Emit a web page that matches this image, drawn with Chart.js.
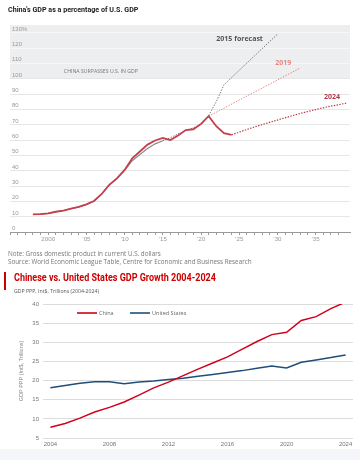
<!DOCTYPE html>
<html>
<head>
<meta charset="utf-8">
<script src="https://cdn.jsdelivr.net/npm/chart.js@4.4.1/dist/chart.umd.min.js"></script>
<style>
  html, body { margin: 0; padding: 0; background: #fff; }
  body { width: 360px; height: 460px; position: relative; overflow: hidden; font-family: 'Open Sans', sans-serif; }
  .abs { position: absolute; white-space: nowrap; }
  #c1 { position: absolute; left: 0; top: 0; }
  #c2 { position: absolute; left: 0; top: 295px; }
  #t1 { left: 8px; top: 5px; font-family: 'Liberation Sans Narrow', 'Roboto', sans-serif; font-weight: bold; font-size: 8px; color: #222; transform: scaleX(0.89); transform-origin: 0 0; }
  .note { left: 8px; font-size: 6.3px; color: #777; }
  #bar { left: 4px; top: 272px; width: 2px; height: 18px; background: #cc0000; }
  #t2 { left: 14px; top: 272px; font-family: 'Liberation Sans Narrow', 'Roboto', sans-serif; font-weight: bold; font-size: 10px; color: #cc0000; transform: scaleX(0.9); transform-origin: 0 0; }
  #st2 { left: 14px; top: 287px; font-size: 5.2px; color: #555; }
  #foot { left: 0; top: 449px; width: 360px; height: 11px; background: #f4f6f9; }
</style>
</head>
<body>
<div id="foot" class="abs"></div>
<canvas id="c1" width="360" height="250"></canvas>
<canvas id="c2" width="360" height="165"></canvas>
<div id="t1" class="abs">China's GDP as a percentage of U.S. GDP</div>
<div class="abs note" style="top:249px">Note: Gross domestic product in current U.S. dollars</div>
<div class="abs note" style="top:257px">Source: World Economic League Table, Centre for Economic and Business Research</div>
<div id="bar" class="abs"></div>
<div id="t2" class="abs">Chinese vs. United States GDP Growth 2004-2024</div>
<div id="st2" class="abs">GDP PPP, Int$, Trillions (2004-2024)</div>
<script>
// --- top chart: China's GDP as % of US GDP
const yearsActual = [1998, 1999, 2000, 2001, 2002, 2003, 2004, 2005, 2006, 2007, 2008, 2009, 2010, 2011, 2012, 2013, 2014, 2015, 2016, 2017, 2018, 2019, 2020, 2021, 2022, 2023, 2024];
const chinaShare = [11.5, 11.6, 12.2, 13.2, 14.0, 15.2, 16.4, 18.0, 20.2, 24.8, 30.8, 35.0, 40.5, 48.0, 52.5, 57.0, 59.7, 61.3, 60.0, 63.0, 66.5, 67.0, 70.5, 75.5, 69.0, 64.5, 63.4];
const yearsPast2015 = [1998, 1999, 2000, 2001, 2002, 2003, 2004, 2005, 2006, 2007, 2008, 2009, 2010, 2011, 2012, 2013, 2014, 2015];
const sharePast2015 = [11.5, 11.6, 12.2, 13.2, 14.0, 15.2, 16.4, 18.0, 20.2, 24.8, 30.8, 35.0, 40.2, 46.5, 50.5, 54.5, 57.5, 59.5];
const yearsFc2015 = [2015, 2016, 2017, 2018, 2019, 2020, 2021, 2022, 2023, 2030];
const fc2015 = [59.5, 61.5, 64, 66, 68, 70, 76, 85, 96, 129];
const yearsFc2019 = [2021, 2033];
const fc2019 = [75.5, 107];
const yearsFc2024 = [2024, 2027, 2030, 2033, 2036, 2039];
const fc2024 = [63.4, 68.5, 73, 77.3, 81, 84];
const shareTicks = [0, 10, 20, 30, 40, 50, 60, 70, 80, 90, 100, 110, 120, 130];

// --- bottom chart: GDP PPP
const pppYears = ['2004', '2005', '2006', '2007', '2008', '2009', '2010', '2011', '2012', '2013', '2014', '2015', '2016', '2017', '2018', '2019', '2020', '2021', '2022', '2023', '2024'];
const pppChina = [7.8, 8.8, 10.2, 11.8, 13.0, 14.4, 16.2, 18.1, 19.6, 21.3, 23.0, 24.6, 26.2, 28.2, 30.2, 32.0, 32.6, 35.7, 36.7, 38.8, 40.5];
const pppUS = [18.1, 18.7, 19.3, 19.7, 19.7, 19.2, 19.6, 19.9, 20.3, 20.6, 21.1, 21.6, 22.1, 22.6, 23.2, 23.8, 23.3, 24.8, 25.4, 26.0, 26.7];

const pts = (xs, ys) => xs.map((x, i) => ({ x, y: ys[i] }));

const callouts = [
  { text: '2015 forecast', x: 2028.1, y: 126, color: '#555', weight: 'bold', size: 7, align: 'right' },
  { text: '2019', x: 2031.8, y: 110, color: '#e8877f', weight: 'bold', size: 7, align: 'right' },
  { text: '2024', x: 2038.2, y: 88, color: '#b23a48', weight: 'bold', size: 7, align: 'right' },
  { text: 'CHINA SURPASSES U.S. IN GDP', x: 2006.9, y: 104.5, color: '#777', weight: 'normal', size: 5.2, align: 'center' }
];

const bandPlugin = {
  id: 'band',
  beforeDraw(chart) {
    const { ctx, chartArea: a, scales: { y } } = chart;
    ctx.save();
    ctx.fillStyle = '#eceef0';
    ctx.fillRect(a.left, a.top, a.right - a.left, y.getPixelForValue(100) - a.top);
    ctx.restore();
  },
  afterDatasetsDraw(chart) {
    const { ctx, scales: { x, y } } = chart;
    ctx.save();
    ctx.textBaseline = 'middle';
    callouts.forEach((c) => {
      ctx.font = `${c.weight} ${c.size}px 'Open Sans', sans-serif`;
      ctx.fillStyle = c.color;
      ctx.textAlign = c.align;
      ctx.fillText(c.text, x.getPixelForValue(c.x), y.getPixelForValue(c.y));
    });
    ctx.restore();
  }
};

const dotted = [1.4, 1.4];

new Chart(document.getElementById('c1'), {
  type: 'line',
  data: {
    datasets: [
      { data: pts(yearsActual, chinaShare), borderColor: '#c4404c', borderWidth: 1.8 },
      { data: pts(yearsPast2015, sharePast2015), borderColor: '#8a8a8a', borderWidth: 1.2 },
      { data: pts(yearsFc2015, fc2015), borderColor: '#777', borderWidth: 1, borderDash: dotted },
      { data: pts(yearsFc2019, fc2019), borderColor: '#e8877f', borderWidth: 1, borderDash: dotted },
      { data: pts(yearsFc2024, fc2024), borderColor: '#b23a48', borderWidth: 1.2, borderDash: dotted, cubicInterpolationMode: 'monotone' }
    ]
  },
  options: {
    responsive: false,
    animation: false,
    layout: { padding: { top: 25, left: 10, right: 10, bottom: 0 } },
    elements: { point: { radius: 0 }, line: { tension: 0 } },
    plugins: { legend: { display: false }, tooltip: { enabled: false } },
    scales: {
      x: {
        type: 'linear', min: 1995, max: 2039.5,
        afterBuildTicks: (s) => { s.ticks = s.ticks.filter((t) => Number.isInteger(t.value)); },
        afterFit: (s) => { s.height = 18; },
        ticks: {
          stepSize: 1, autoSkip: false, maxRotation: 0, padding: 1, color: '#999',
          font: { size: 6.2 },
          callback: (v) => (v % 5 === 0 && v >= 2000) ? (v === 2000 ? '2000' : '\u2019' + String(v).slice(2)) : ''
        },
        grid: { drawOnChartArea: false, drawTicks: true, tickLength: 3, color: '#999' },
        border: { display: true, color: '#999' }
      },
      y: {
        min: 0, max: 135,
        afterBuildTicks: (s) => { s.ticks = shareTicks.map((v) => ({ value: v })); },
        afterFit: (s) => { s.width = 0; },
        ticks: {
          mirror: true, padding: 2, labelOffset: -3.5, color: '#999',
          font: { size: 6 },
          callback: (v) => (v === 130 ? '130%' : v)
        },
        grid: { drawTicks: false, color: (c) => (c.tick && c.tick.value > 100 ? '#f6f7f8' : '#e6e6e6') },
        border: { display: false }
      }
    }
  },
  plugins: [bandPlugin]
});

const legendPlugin = {
  id: 'inlineLegend',
  afterDraw(chart) {
    const { ctx } = chart;
    const y = 18;
    const starts = [77, 130];
    ctx.save();
    ctx.font = "5.5px 'Open Sans', sans-serif";
    ctx.textBaseline = 'middle';
    chart.data.datasets.forEach((ds, i) => {
      const x0 = starts[i];
      ctx.strokeStyle = ds.borderColor;
      ctx.lineWidth = 1.6;
      ctx.beginPath();
      ctx.moveTo(x0, y);
      ctx.lineTo(x0 + 20, y);
      ctx.stroke();
      ctx.fillStyle = '#666';
      ctx.fillText(ds.label, x0 + 22, y);
    });
    ctx.restore();
  }
};

new Chart(document.getElementById('c2'), {
  type: 'line',
  data: {
    labels: pppYears,
    datasets: [
      { label: 'China', data: pppChina, borderColor: '#d0021b', borderWidth: 1.5 },
      { label: 'United States', data: pppUS, borderColor: '#1f4e79', borderWidth: 1.5 }
    ]
  },
  options: {
    responsive: false,
    animation: false,
    layout: { padding: { top: 9, left: 0, right: 7, bottom: 6 } },
    elements: { point: { radius: 0 }, line: { tension: 0 } },
    plugins: { legend: { display: false }, tooltip: { enabled: false } },
    scales: {
      x: {
        offset: true,
        afterFit: (s) => { s.height = 16; },
        ticks: {
          autoSkip: false, maxRotation: 0, padding: 3, color: '#777',
          font: { size: 6 },
          callback: (v, i) => (i % 4 === 0 ? pppYears[i] : '')
        },
        grid: { display: false, drawTicks: false },
        border: { display: false }
      },
      y: {
        min: 5, max: 40,
        afterFit: (s) => { s.width = 43; },
        ticks: { stepSize: 5, padding: 4, color: '#777', font: { size: 6 } },
        grid: { drawTicks: false, color: '#dcdcdc' },
        border: { display: false },
        title: { display: true, text: 'GDP PPP (Int$, Trillions)', color: '#888', font: { size: 5.5 }, padding: { top: 18, bottom: 0 } }
      }
    }
  },
  plugins: [legendPlugin]
});
</script>
</body>
</html>
